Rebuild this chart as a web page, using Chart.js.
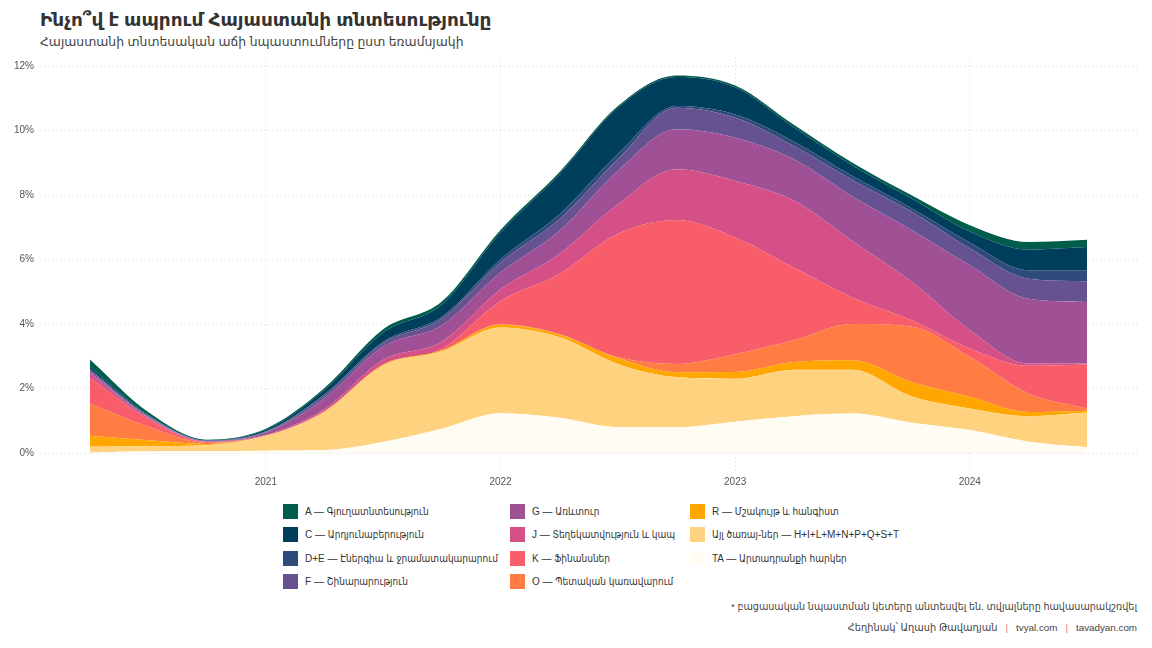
<!DOCTYPE html>
<html>
<head>
<meta charset="utf-8">
<script src="https://cdn.jsdelivr.net/npm/chart.js@4.4.1/dist/chart.umd.min.js"></script>
<style>
  body { margin: 0; width: 1152px; height: 648px; background: #fff; position: relative; overflow: hidden;
         font-family: 'Liberation Sans', 'DejaVu Sans', sans-serif; color: #333; }
  #title { position: absolute; left: 40px; top: 9px; font-size: 18.5px; font-weight: bold; color: #333; white-space: nowrap; }
  #subtitle { position: absolute; left: 40px; top: 34px; font-size: 12.4px; color: #444; white-space: nowrap; }
  #wrap { position: absolute; left: 0; top: 45px; width: 1152px; height: 450px; }
  #legend { position: absolute; left: 283px; top: 504px; }
  .item { position: absolute; height: 16px; white-space: nowrap; font-size: 10px; color: #333; line-height: 15px;
          font-family: 'Liberation Sans', 'DejaVu Sans Condensed', 'DejaVu Sans', sans-serif; }
  .item span.sw { position: absolute; left: 0; top: 0; width: 15px; height: 15px; }
  .item span.tx { position: absolute; left: 22px; top: 0; }
  #note { position: absolute; right: 15px; top: 601px; font-size: 9.6px; color: #444; white-space: nowrap; }
  #cap { position: absolute; right: 15px; top: 622px; font-size: 9.8px; color: #444; white-space: nowrap; }
  #cap .sep { color: #e07a7a; margin: 0 8px; }
</style>
</head>
<body>
<div id="title">Ինչո՞վ է ապրում Հայաստանի տնտեսությունը</div>
<div id="subtitle">Հայաստանի տնտեսական աճի նպաստումները ըստ եռամսյակի</div>
<div id="wrap"><canvas id="chart"></canvas></div>
<div id="legend"></div>
<div id="note">* բացասական նպաստման կետերը անտեսվել են. տվյալները հավասարակշռվել</div>
<div id="cap">Հեղինակ՝ Աղասի Թավադյան<span class="sep">|</span>tvyal.com<span class="sep">|</span>tavadyan.com</div>
<script>
// quarters as decimal years (2020 Q2 ... 2024 Q3)
const quarters = [2020.25, 2020.5, 2020.75, 2021, 2021.25, 2021.5, 2021.75, 2022, 2022.25,
                  2022.5, 2022.75, 2023, 2023.25, 2023.5, 2023.75, 2024, 2024.25, 2024.5];
const xTicks = [2021, 2022, 2023, 2024];
const yTicks = [0, 2, 4, 6, 8, 10, 12];

// contributions, percentage points (stack order: bottom to top)
const seriesTA    = [0.02, 0.06, 0.07, 0.08, 0.10, 0.35, 0.76, 1.24, 1.10, 0.81, 0.81, 0.98, 1.15, 1.23, 0.95, 0.72, 0.36, 0.19];
const seriesOther = [0.18, 0.16, 0.18, 0.46, 1.18, 2.37, 2.40, 2.66, 2.50, 1.96, 1.55, 1.33, 1.44, 1.36, 0.82, 0.67, 0.79, 1.07];
const seriesR     = [0.34, 0.18, 0.04, 0.00, 0.01, 0.02, 0.03, 0.08, 0.08, 0.18, 0.15, 0.21, 0.24, 0.29, 0.44, 0.36, 0.13, 0.06];
const seriesO     = [1.00, 0.42, 0.03, 0.00, 0.00, 0.00, 0.00, 0.02, 0.02, 0.03, 0.26, 0.55, 0.67, 1.13, 1.72, 1.24, 0.57, 0.07];
const seriesK     = [0.80, 0.23, 0.03, 0.01, 0.02, 0.02, 0.05, 0.72, 1.85, 3.82, 4.46, 3.62, 2.26, 0.82, 0.20, 0.26, 0.86, 1.36];
const seriesJ     = [0.14, 0.04, 0.01, 0.02, 0.06, 0.14, 0.22, 0.36, 0.62, 0.92, 1.57, 1.75, 2.07, 1.75, 1.20, 0.57, 0.07, 0.03];
const seriesG     = [0.05, 0.03, 0.01, 0.07, 0.33, 0.41, 0.51, 0.52, 0.72, 1.03, 1.24, 1.34, 1.28, 1.38, 1.60, 2.01, 2.01, 1.91];
const seriesF     = [0.04, 0.02, 0.01, 0.02, 0.08, 0.10, 0.20, 0.31, 0.36, 0.36, 0.67, 0.62, 0.42, 0.51, 0.57, 0.52, 0.62, 0.64];
const seriesDE    = [0.04, 0.02, 0.01, 0.02, 0.05, 0.05, 0.06, 0.10, 0.15, 0.16, 0.05, 0.10, 0.13, 0.12, 0.10, 0.18, 0.26, 0.34];
const seriesC     = [0.08, 0.03, 0.01, 0.05, 0.13, 0.28, 0.38, 0.83, 1.24, 1.44, 0.90, 0.84, 0.44, 0.33, 0.30, 0.34, 0.64, 0.72];
const seriesA     = [0.22, 0.08, 0.02, 0.03, 0.06, 0.10, 0.09, 0.08, 0.06, 0.05, 0.05, 0.06, 0.08, 0.08, 0.10, 0.20, 0.24, 0.23];

const sectors = [
  { key: 'TA',    label: 'TA — Արտադրանքի հարկեր',                  color: '#fffcf3', data: seriesTA },
  { key: 'Other', label: 'Այլ ծառայ-ներ — H+I+L+M+N+P+Q+S+T',        color: '#ffd27f', data: seriesOther },
  { key: 'R',     label: 'R — Մշակույթ և հանգիստ',                   color: '#ffa600', data: seriesR },
  { key: 'O',     label: 'O — Պետական կառավարում',                   color: '#ff7c43', data: seriesO },
  { key: 'K',     label: 'K — Ֆինանսներ',                            color: '#f95d6a', data: seriesK },
  { key: 'J',     label: 'J — Տեղեկատվություն և կապ',                color: '#d45087', data: seriesJ },
  { key: 'G',     label: 'G — Առևտուր',                              color: '#a05195', data: seriesG },
  { key: 'F',     label: 'F — Շինարարություն',                       color: '#665191', data: seriesF },
  { key: 'DE',    label: 'D+E — Էներգիա և ջրամատակարարում',          color: '#2f4b7c', data: seriesDE },
  { key: 'C',     label: 'C — Արդյունաբերություն',                   color: '#003f5c', data: seriesC },
  { key: 'A',     label: 'A — Գյուղատնտեսություն',                   color: '#005c4b', data: seriesA }
];

// legend laid out column by column, like the original
const legendColumns = [['A', 'C', 'DE', 'F'], ['G', 'J', 'K', 'O'], ['R', 'Other', 'TA']];
const legendColX = [0, 227, 407];
const legendRowY = [0, 23.3, 46.6, 69.9];

const legend = document.getElementById('legend');
legendColumns.forEach((col, ci) => {
  col.forEach((key, ri) => {
    const s = sectors.find(d => d.key === key);
    const el = document.createElement('div');
    el.className = 'item';
    el.style.left = legendColX[ci] + 'px';
    el.style.top = legendRowY[ri] + 'px';
    el.innerHTML = '<span class="sw" style="background:' + s.color + '"></span><span class="tx"></span>';
    el.querySelector('.tx').textContent = s.label;
    legend.appendChild(el);
  });
});

const datasets = sectors.map((s, i) => ({
  label: s.label,
  data: quarters.map((q, j) => ({ x: q, y: s.data[j] })),
  backgroundColor: s.color,
  borderColor: 'rgba(0,0,0,0)',
  borderWidth: 0,
  pointRadius: 0,
  cubicInterpolationMode: 'monotone',
  fill: i === 0 ? 'origin' : '-1'
}));

const axisFont = { family: "'Liberation Sans', 'DejaVu Sans', sans-serif", size: 10 };

new Chart(document.getElementById('chart'), {
  type: 'line',
  data: { datasets },
  options: {
    responsive: true,
    maintainAspectRatio: false,
    animation: false,
    layout: { padding: { top: 1, right: 15, left: 0, bottom: 0 } },
    plugins: {
      legend: { display: false },
      tooltip: { enabled: false },
      filler: { propagate: false }
    },
    scales: {
      x: {
        type: 'linear',
        min: 2020.0375,
        max: 2024.7125,
        afterBuildTicks: axis => { axis.ticks = xTicks.map(v => ({ value: v })); },
        afterFit: axis => { axis.height = 23; },
        ticks: { color: '#555', font: axisFont, padding: 4, callback: v => String(v) },
        grid: { color: '#d8d8d8', lineWidth: 1, drawTicks: false },
        border: { display: false, dash: [1, 3] }
      },
      y: {
        stacked: true,
        min: -0.58,
        max: 12.28,
        afterBuildTicks: axis => { axis.ticks = yTicks.map(v => ({ value: v })); },
        afterFit: axis => { axis.width = 40; },
        ticks: { color: '#555', font: axisFont, padding: 6, callback: v => v + '%' },
        grid: { color: '#d8d8d8', lineWidth: 1, drawTicks: false },
        border: { display: false, dash: [1, 3] }
      }
    }
  }
});
</script>
</body>
</html>
